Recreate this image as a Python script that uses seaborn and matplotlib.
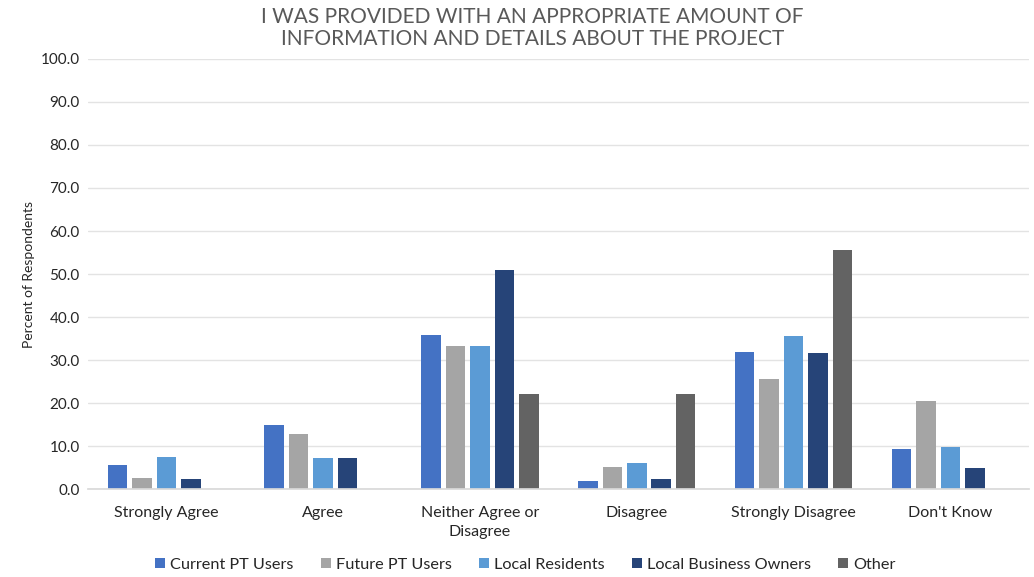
import pandas as pd
import numpy as np
import matplotlib.pyplot as plt
import seaborn as sns
from matplotlib.ticker import FormatStrFormatter

# Data
categories = ["Strongly Agree", "Agree", "Neither Agree or\nDisagree",
              "Disagree", "Strongly Disagree", "Don't Know"]
groups = ["Current PT Users", "Future PT Users", "Local Residents",
          "Local Business Owners", "Other"]

current_pt = [5.6, 14.9, 35.8, 1.9, 32.0, 9.3]
future_pt = [2.6, 12.8, 33.3, 5.1, 25.6, 20.5]
local_res = [7.4, 7.2, 33.3, 6.1, 35.7, 9.8]
local_biz = [2.4, 7.2, 51.0, 2.4, 31.6, 4.9]
other = [0.0, 0.0, 22.2, 22.2, 55.6, 0.0]

colors = ["#4472C4", "#A5A5A5", "#5B9BD5", "#264478", "#636363"]

rows = []
for g, vals in zip(groups, [current_pt, future_pt, local_res, local_biz, other]):
    for c, v in zip(categories, vals):
        rows.append({"Response": c, "Group": g, "Percent": v})
df = pd.DataFrame(rows)

sns.set_theme(style="white")
plt.rcParams['font.family'] = ['Lato', 'DejaVu Sans']

fig, ax = plt.subplots(figsize=(10.34, 5.77), dpi=100)
fig.subplots_adjust(left=0.085, right=0.995, top=0.898, bottom=0.152)

sns.barplot(data=df, x="Response", y="Percent", hue="Group", order=categories,
            hue_order=groups, palette=colors, saturation=1, width=0.78, gap=0.2,
            edgecolor="none", ax=ax)

ax.set_ylim(0, 100)
ax.set_yticks(np.arange(0, 101, 10))
ax.yaxis.set_major_formatter(FormatStrFormatter('%.1f'))
ax.grid(axis='y', color='#E3E3E3', linewidth=1)
ax.set_axisbelow(True)
for s in ['top', 'right', 'left']:
    ax.spines[s].set_visible(False)
ax.spines['bottom'].set_color('#D9D9D9')
ax.tick_params(axis='y', length=0, labelsize=11, colors='#262626', pad=6)
ax.tick_params(axis='x', length=0, labelsize=11.5, colors='#262626', pad=12)
for lbl in ax.get_xticklabels():
    lbl.set_linespacing(1.5)
ax.set_xlabel("")
ax.set_ylabel("Percent of Respondents", fontsize=10, color='#262626')

fig.suptitle("I WAS PROVIDED WITH AN APPROPRIATE AMOUNT OF\nINFORMATION AND DETAILS ABOUT THE PROJECT",
             x=0.515, y=0.988, fontsize=15, color='#595959', linespacing=1.15)

handles, labels = ax.get_legend_handles_labels()
ax.get_legend().remove()
fig.legend(handles, labels, loc='center', bbox_to_anchor=(0.508, 0.021), ncol=5,
           frameon=False, fontsize=11.7, handlelength=0.6, handleheight=0.6,
           handletextpad=0.3, columnspacing=1.7)

fig.savefig("out.png", dpi=100)
